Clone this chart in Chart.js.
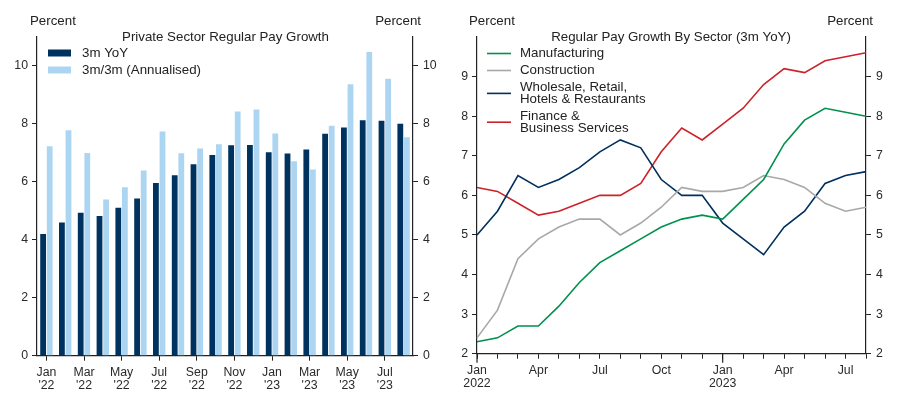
<!DOCTYPE html>
<html>
<head>
<meta charset="utf-8">
<script src="https://cdn.jsdelivr.net/npm/chart.js@4/dist/chart.umd.min.js"></script>
<style>
  body { margin: 0; background: #fff; }
  #wrap { position: relative; width: 903px; height: 407px; }
  .box { position: absolute; top: 0; height: 407px; }
</style>
</head>
<body>
<div id="wrap">
  <div class="box" style="left:0;width:450px"><canvas id="pay"></canvas></div>
  <div class="box" style="left:450px;width:453px"><canvas id="sector"></canvas></div>
</div>
<script>
// months Jan 2022 .. Aug 2023
const months = ['Jan','Feb','Mar','Apr','May','Jun','Jul','Aug','Sep','Oct','Nov','Dec',
                'Jan','Feb','Mar','Apr','May','Jun','Jul','Aug'];
const years = ['2022','2022','2022','2022','2022','2022','2022','2022','2022','2022','2022','2022',
               '2023','2023','2023','2023','2023','2023','2023','2023'];

// left chart
const yoy3m = [4.2, 4.6, 4.93, 4.82, 5.11, 5.43, 5.96, 6.23, 6.61, 6.93, 7.26, 7.27,
               7.02, 6.98, 7.12, 7.66, 7.88, 8.13, 8.11, 8.01];
const annualised3m = [7.23, 7.78, 7.0, 5.39, 5.81, 6.39, 7.74, 6.99, 7.15, 7.3, 8.43, 8.5,
                      7.67, 6.71, 6.43, 7.94, 9.37, 10.48, 9.56, 7.54];

// right chart
const manufacturing = [2.3, 2.4, 2.7, 2.7, 3.2, 3.8, 4.3, 4.6, 4.9, 5.2, 5.4, 5.5,
                       5.4, 5.9, 6.4, 7.3, 7.9, 8.2, 8.1, 8.0];
const construction = [2.4, 3.1, 4.4, 4.9, 5.2, 5.4, 5.4, 5.0, 5.3, 5.7, 6.2, 6.1,
                      6.1, 6.2, 6.5, 6.4, 6.2, 5.8, 5.6, 5.7];
const wholesale = [5.0, 5.6, 6.5, 6.2, 6.4, 6.7, 7.1, 7.4, 7.2, 6.4, 6.0, 6.0,
                   5.3, 4.9, 4.5, 5.2, 5.6, 6.3, 6.5, 6.6];
const finance = [6.2, 6.1, 5.8, 5.5, 5.6, 5.8, 6.0, 6.0, 6.3, 7.1, 7.7, 7.4,
                 7.8, 8.2, 8.8, 9.2, 9.1, 9.4, 9.5, 9.6];

const barSeries = ['3m YoY', '3m/3m (Annualised)'];
const sectorNames = [['Manufacturing'], ['Construction'],
                     ['Wholesale, Retail,', 'Hotels & Restaurants'],
                     ['Finance &', 'Business Services']];

const FONT = '"Liberation Sans", Arial, sans-serif';
const TXT = '#222';
Chart.defaults.font.family = FONT;
Chart.defaults.color = '#2a2a2a';

// draws the "Percent" labels, title, legend and the longer year ticks
const annot = {
  id: 'annot',
  afterDraw(chart, args, o) {
    const c = chart.ctx;
    c.save();
    c.fillStyle = TXT;
    c.textBaseline = 'middle';
    c.font = '13.3px ' + FONT;
    o.texts.forEach(t => {
      c.textAlign = t.align || 'left';
      c.fillText(t.text, t.x, t.y);
    });
    c.textAlign = 'left';
    let y = o.legend.y;
    chart.data.datasets.forEach((ds, i) => {
      const lines = o.legend.lines[i];
      const mid = y + (lines.length - 1) * o.legend.lineH / 2;
      if (o.legend.kind === 'box') {
        c.fillStyle = ds.backgroundColor;
        c.fillRect(o.legend.x, mid - 3.5, 23, 7);
      } else {
        c.strokeStyle = ds.borderColor;
        c.lineWidth = 1.6;
        c.beginPath();
        c.moveTo(o.legend.x, mid);
        c.lineTo(o.legend.x + 24, mid);
        c.stroke();
      }
      c.fillStyle = TXT;
      lines.forEach((l, k) => c.fillText(l, o.legend.textX, y + k * o.legend.lineH));
      y += (lines.length - 1) * o.legend.lineH + o.legend.gap;
    });
    if (o.yearTicks) {
      const xs = chart.scales.x, b = chart.chartArea.bottom;
      c.strokeStyle = '#222';
      c.lineWidth = 1.2;
      months.forEach((m, i) => {
        if (m !== 'Jan') return;
        const px = xs.getPixelForValue(i);
        c.beginPath();
        c.moveTo(px, b);
        c.lineTo(px, b + 9);
        c.stroke();
      });
    }
    c.restore();
  }
};

function fixW(w) { return s => { s.width = w; }; }
const tickFont = { size: 12.3, lineHeight: 1.0 };

// ---- left: bars ----
new Chart(document.getElementById('pay'), {
  type: 'bar',
  data: {
    labels: months.map((m, i) => [m, "'" + years[i].slice(2)]),
    datasets: [
      { label: barSeries[0], data: yoy3m, backgroundColor: '#00325f',
        categoryPercentage: 0.7, barPercentage: 0.88 },
      { label: barSeries[1], data: annualised3m, backgroundColor: '#acd5f2',
        categoryPercentage: 0.7, barPercentage: 0.88 }
    ]
  },
  options: {
    responsive: true,
    maintainAspectRatio: false,
    animation: false,
    layout: { padding: { top: 37, left: 0, right: 0, bottom: 0 } },
    plugins: {
      legend: { display: false },
      tooltip: { enabled: false },
      annot: {
        texts: [
          { text: 'Percent', x: 30, y: 21 },
          { text: 'Percent', x: 421, y: 21, align: 'right' },
          { text: 'Private Sector Regular Pay Growth', x: 225.5, y: 37, align: 'center' }
        ],
        legend: { kind: 'box', x: 48, textX: 82, y: 53, lineH: 12, gap: 17,
                  lines: barSeries.map(s => [s]) }
      }
    },
    scales: {
      x: {
        offset: true,
        afterFit: s => { s.height = 51.3; },
        border: { display: true, color: '#222', width: 1.2 },
        grid: { offset: false, drawOnChartArea: false, tickLength: 5,
                tickColor: ctx => ctx.index % 2 === 0 ? '#222' : 'rgba(0,0,0,0)' },
        ticks: { autoSkip: false, maxRotation: 0, padding: 6, font: tickFont,
                 callback(v, i) { return i % 2 === 0 ? this.getLabelForValue(v) : ''; } }
      },
      y: {
        position: 'left', min: 0, max: 11,
        afterFit: fixW(37),
        afterBuildTicks: s => { s.ticks = s.ticks.filter(t => t.value <= 10); },
        border: { display: true, color: '#222', width: 1.2 },
        grid: { drawOnChartArea: false, tickLength: 5, tickColor: '#222' },
        ticks: { stepSize: 2, padding: 4, font: tickFont }
      },
      y2: {
        position: 'right', min: 0, max: 11,
        afterFit: fixW(37),
        afterBuildTicks: s => { s.ticks = s.ticks.filter(t => t.value <= 10); },
        border: { display: true, color: '#222', width: 1.2 },
        grid: { drawOnChartArea: false, tickLength: 5, tickColor: '#222' },
        ticks: { stepSize: 2, padding: 5, font: tickFont }
      }
    }
  },
  plugins: [annot]
});

// ---- right: lines ----
const lineStyle = { borderWidth: 1.6, pointRadius: 0, tension: 0, fill: false };
new Chart(document.getElementById('sector'), {
  type: 'line',
  data: {
    labels: months,
    datasets: [
      { label: sectorNames[0].join(' '), data: manufacturing, borderColor: '#00914c', ...lineStyle },
      { label: sectorNames[1].join(' '), data: construction, borderColor: '#a8a8a8', ...lineStyle },
      { label: sectorNames[2].join(' '), data: wholesale, borderColor: '#00305d', ...lineStyle },
      { label: sectorNames[3].join(' '), data: finance, borderColor: '#cc2229', ...lineStyle }
    ]
  },
  options: {
    responsive: true,
    maintainAspectRatio: false,
    animation: false,
    layout: { padding: { top: 37, left: 0, right: 0, bottom: 0 } },
    plugins: {
      legend: { display: false },
      tooltip: { enabled: false },
      annot: {
        texts: [
          { text: 'Percent', x: 19, y: 21 },
          { text: 'Percent', x: 423, y: 21, align: 'right' },
          { text: 'Regular Pay Growth By Sector (3m YoY)', x: 221, y: 37, align: 'center' }
        ],
        legend: { kind: 'line', x: 37, textX: 70, y: 53.5, lineH: 11.8, gap: 17,
                  lines: sectorNames },
        yearTicks: true
      }
    },
    scales: {
      x: {
        offset: false,
        afterFit: s => { s.height = 53.3; },
        border: { display: true, color: '#222', width: 1.2 },
        grid: { drawOnChartArea: false, tickLength: 5, tickColor: '#222' },
        ticks: { autoSkip: false, maxRotation: 0, padding: 6, font: tickFont,
                 callback(v, i) {
                   if (i % 3 !== 0) return '';
                   return months[i] === 'Jan' ? [months[i], years[i]] : months[i];
                 } }
      },
      y: {
        position: 'left', min: 2, max: 10,
        afterFit: fixW(27),
        afterBuildTicks: s => { s.ticks = s.ticks.filter(t => t.value <= 9); },
        border: { display: true, color: '#222', width: 1.2 },
        grid: { drawOnChartArea: false, tickLength: 5, tickColor: '#222' },
        ticks: { stepSize: 1, padding: 4, font: tickFont }
      },
      y2: {
        position: 'right', min: 2, max: 10,
        afterFit: fixW(37),
        afterBuildTicks: s => { s.ticks = s.ticks.filter(t => t.value <= 9); },
        border: { display: true, color: '#222', width: 1.2 },
        grid: { drawOnChartArea: false, tickLength: 5, tickColor: '#222' },
        ticks: { stepSize: 1, padding: 5, font: tickFont }
      }
    }
  },
  plugins: [annot]
});
</script>
</body>
</html>
